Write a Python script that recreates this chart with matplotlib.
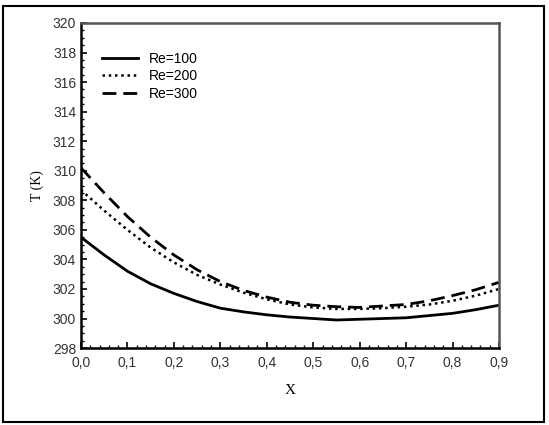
import matplotlib
matplotlib.use("Agg")
import matplotlib.pyplot as plt
from matplotlib.ticker import MultipleLocator, FixedLocator
from matplotlib.patches import Rectangle

x = [0.0, 0.05, 0.1, 0.15, 0.2, 0.25, 0.3, 0.35, 0.4, 0.45, 0.5, 0.55, 0.6, 0.65, 0.7, 0.75, 0.8, 0.85, 0.9]
re100 = [305.5, 304.3, 303.2, 302.35, 301.7, 301.15, 300.7, 300.45, 300.25, 300.1, 300.0, 299.9, 299.95, 300.0, 300.05, 300.2, 300.35, 300.6, 300.9]
re200 = [308.7, 307.3, 306.0, 304.8, 303.8, 302.95, 302.3, 301.75, 301.3, 300.95, 300.75, 300.65, 300.65, 300.7, 300.8, 300.95, 301.2, 301.55, 302.0]
re300 = [310.2, 308.5, 306.9, 305.5, 304.3, 303.3, 302.5, 301.9, 301.45, 301.1, 300.9, 300.8, 300.75, 300.85, 300.95, 301.2, 301.55, 301.95, 302.45]
labels = ["Re=100", "Re=200", "Re=300"]
xticks = [0.0, 0.1, 0.2, 0.3, 0.4, 0.5, 0.6, 0.7, 0.8, 0.9]
xticklabels = ["0,0", "0,1", "0,2", "0,3", "0,4", "0,5", "0,6", "0,7", "0,8", "0,9"]
yticks = list(range(298, 321, 2))

fig = plt.figure(figsize=(5.49, 4.25), dpi=100)
fig.patches.append(Rectangle((0.006, 0.007), 0.984, 0.98, transform=fig.transFigure,
                             fill=False, edgecolor="black", linewidth=1.5))
ax = fig.add_axes([0.1475, 0.181, 0.7615, 0.765])

ax.plot(x, re100, color="black", linestyle="-", linewidth=2.0, label=labels[0])
ax.plot(x, re200, color="black", linestyle=(0, (1, 1.5)), linewidth=1.8, label=labels[1])
ax.plot(x, re300, color="black", linestyle=(0, (5, 2.5)), linewidth=2.0, label=labels[2])

ax.set_xlim(0, 0.9)
ax.set_ylim(298, 320)
ax.xaxis.set_major_locator(FixedLocator(xticks))
ax.set_xticklabels(xticklabels)
ax.set_yticks(yticks)
ax.xaxis.set_minor_locator(MultipleLocator(0.02))
ax.yaxis.set_minor_locator(MultipleLocator(0.5))
ax.tick_params(which="both", direction="in", top=False, right=False,
               labelsize=10, colors="black")
ax.tick_params(which="major", length=4, width=1.2)
ax.tick_params(which="minor", length=2, width=1.0)
for lab in ax.get_xticklabels() + ax.get_yticklabels():
    lab.set_family("Liberation Sans")
    lab.set_color("#333333")
ax.tick_params(axis="x", pad=6)

for s in ["left", "bottom"]:
    ax.spines[s].set_linewidth(1.8)
    ax.spines[s].set_color("black")
for s in ["top", "right"]:
    ax.spines[s].set_linewidth(1.8)
    ax.spines[s].set_color("#555555")

ax.set_xlabel("X", family="Liberation Serif", fontsize=11, labelpad=10)
ax.set_ylabel("T (K)", family="Liberation Serif", fontsize=10, labelpad=6)

leg = ax.legend(loc="upper left", frameon=False,
                bbox_to_anchor=(0.02, 0.95), handlelength=2.6,
                labelspacing=0.25, prop={"family": "Liberation Sans", "size": 10})

fig.savefig("out.png", dpi=100)
